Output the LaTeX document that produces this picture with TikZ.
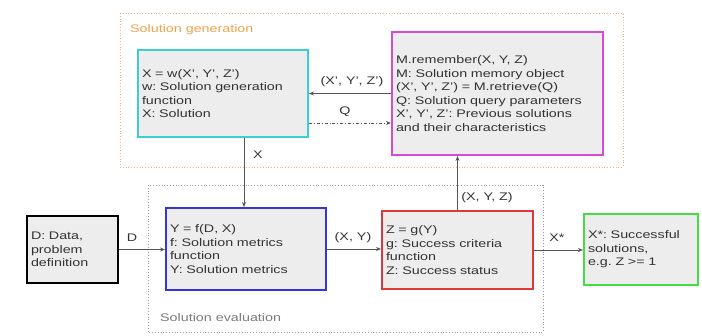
\documentclass[tikz,border=0pt]{standalone}
\usepackage{fontspec}
\setmainfont[FakeStretch=1.3]{Liberation Sans}
\usetikzlibrary{arrows.meta,calc}
\definecolor{cyanb}{HTML}{3CCFD2}
\definecolor{magb}{HTML}{D848DA}
\definecolor{blueb}{HTML}{3535DA}
\definecolor{redb}{HTML}{DC3A3A}
\definecolor{greenb}{HTML}{46DC46}
\definecolor{boxfill}{HTML}{EDEDED}
\definecolor{orangeb}{HTML}{F6B27A}
\definecolor{orangetx}{HTML}{F0A24C}
\definecolor{grayb}{HTML}{9A9A9A}
\definecolor{txt}{HTML}{333333}
\definecolor{arrc}{HTML}{555555}
\tikzset{
  box/.style={draw, line width=2pt, fill=boxfill, inner xsep=4pt, inner ysep=2pt,
    align=left, text=txt, font=\fontsize{11}{13.6}\selectfont},
  arr/.style={draw=arrc, line width=0.8pt, -{Stealth[length=5pt,width=4pt]}},
  lbl/.style={text=txt, font=\fontsize{11}{13.6}\selectfont, inner sep=0pt},
  grp/.style={line width=0.8pt, dotted}
}
\begin{document}
\frenchspacing
\begin{tikzpicture}[x=1pt,y=-1pt]
\useasboundingbox (0,0) rectangle (702,335);
% group frames
\draw[grp, draw=orangeb] (120,13) rectangle (623,167);
\draw[grp, draw=grayb] (148,185) rectangle (543,332);
\node[lbl, text=orangetx, anchor=west] (glbl) at (130,30) {Solution generation};
\node[lbl, text=grayb!80!black, anchor=west] (elbl) at (160,318) {Solution evaluation};
% boxes
\node[box, draw=cyanb, minimum width=170pt, minimum height=87pt, text width=162pt] (cyan) at (223,93.5)
 {X = w(X', Y', Z')\\ w: Solution generation\\ function\\ X: Solution};
\node[box, draw=magb, minimum width=211pt, minimum height=123pt, text width=203pt] (mag) at (497.5,93.5)
 {M.remember(X, Y, Z)\\ M: Solution memory object\\ (X', Y', Z') = M.retrieve(Q)\\ Q: Solution query parameters\\ X', Y', Z': Previous solutions\\ and their characteristics};
\node[box, draw=black, minimum width=91pt, minimum height=67pt, text width=83pt] (data) at (72.5,249.5)
 {D: Data,\\ problem\\ definition};
\node[box, draw=blueb, minimum width=160pt, minimum height=82pt, text width=152pt] (blue) at (246,249)
 {Y = f(D, X)\\ f: Solution metrics\\ function\\ Y: Solution metrics};
\node[box, draw=redb, minimum width=151pt, minimum height=78pt, text width=143pt] (red) at (457.5,250)
 {Z = g(Y)\\ g: Success criteria\\ function\\ Z: Success status};
\node[box, draw=greenb, minimum width=114pt, minimum height=71pt, text width=106pt] (green) at (641,249.5)
 {X*: Successful\\ solutions,\\ e.g. Z >= 1};
% connectors
\draw[arr] (mag.west) -- (mag.west -| cyan.east);
\node[lbl] (l1) at (352,82) {(X', Y', Z')};
\draw[arr, dashdotted] ([yshift=-29.5pt]cyan.east) coordinate (qa) -- (qa -| mag.west);
\node[lbl] (l2) at (345,112) {Q};
\path (cyan.south west) ++(107,0) coordinate (xa);
\draw[arr] (xa) -- (xa |- blue.north);
\node[lbl] (l3) at (258,155) {X};
\draw[arr] (data.east) -- (data.east -| blue.west);
\node[lbl] (l4) at (132,238) {D};
\draw[arr] (blue.east) -- (blue.east -| red.west);
\node[lbl] (l5) at (353,238) {(X, Y)};
\draw[arr] (red.north) -- (red.north |- mag.south);
\node[lbl] (l6) at (487,198) {(X, Y, Z)};
\draw[arr] (red.east) -- (red.east -| green.west);
\node[lbl] (l7) at (557,238) {X*};
\end{tikzpicture}
\end{document}
